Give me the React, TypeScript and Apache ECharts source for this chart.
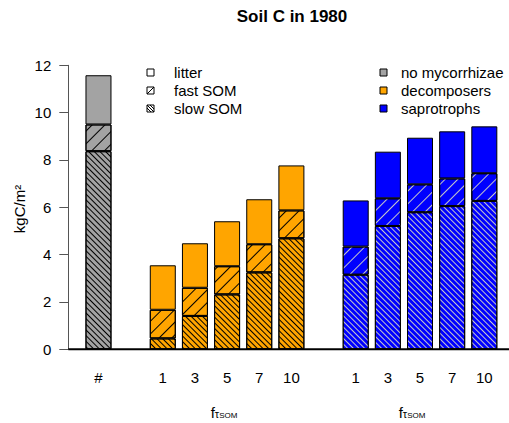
import React, { useEffect, useRef } from 'react';
import * as echarts from 'echarts';

// ---- data ----
const slotLabels = ['#', '', '1', '3', '5', '7', '10', '', '1', '3', '5', '7', '10'];
const slotGroups = ['none', 'gap', 'dec', 'dec', 'dec', 'dec', 'dec', 'gap', 'sap', 'sap', 'sap', 'sap', 'sap'];

const noMycSlow = [8.37];
const noMycFast = [1.13];
const noMycLitter = [2.08];

const decSlow = [0.46, 1.41, 2.32, 3.25, 4.69];
const decFast = [1.21, 1.19, 1.19, 1.19, 1.18];
const decLitter = [1.88, 1.88, 1.9, 1.9, 1.9];

const sapSlow = [3.15, 5.21, 5.79, 6.05, 6.27];
const sapFast = [1.19, 1.17, 1.18, 1.17, 1.17];
const sapLitter = [1.95, 1.97, 1.97, 1.99, 1.98];

const yTicks = { min: 0, max: 12, interval: 2 };

// ---- styles ----
const FONT = 'Liberation Sans, Arial, Helvetica, sans-serif';
const groupColor: Record<string, string> = { none: '#a3a3a3', dec: '#FFA500', sap: '#0000FF' };
const hatchColor: Record<string, string> = { none: '#000000', dec: '#000000', sap: '#c8c8c8' };

const GRID_LEFT = 82.4;
const GRID_WIDTH = 418;
const GRID_TOP = 65.3;
const GRID_HEIGHT = 284;
const Y_OFFSET = 14.1;

const slowDecal = (color: string) => ({
  symbol: 'rect', symbolSize: 1, color, dashArrayX: [1, 0], dashArrayY: [1, 3], rotation: Math.PI / 4,
});
const fastDecal = (color: string) => ({
  symbol: 'rect', symbolSize: 1, color, dashArrayX: [1, 0], dashArrayY: [1, 8], rotation: -Math.PI / 4,
});

function buildSeriesData(kind: 'slow' | 'fast' | 'litter') {
  const src: Record<string, number[]> =
    kind === 'slow' ? { none: noMycSlow, dec: decSlow, sap: sapSlow }
      : kind === 'fast' ? { none: noMycFast, dec: decFast, sap: sapFast }
        : { none: noMycLitter, dec: decLitter, sap: sapLitter };
  const counters: Record<string, number> = { none: 0, dec: 0, sap: 0 };
  return slotGroups.map((g) => {
    if (g === 'gap') return '-';
    const v = src[g][counters[g]++];
    const itemStyle: any = { color: groupColor[g], borderColor: '#000', borderWidth: 1 };
    if (kind === 'slow') itemStyle.decal = slowDecal(hatchColor[g]);
    if (kind === 'fast') itemStyle.decal = fastDecal(hatchColor[g]);
    return { value: v, itemStyle };
  });
}

export default function App() {
  const ref = useRef<HTMLDivElement>(null);
  useEffect(() => {
    if (!ref.current) return;
    const chart = echarts.init(ref.current, undefined, { renderer: 'svg' });
    const seriesCommon = { type: 'bar', stack: 'soil', barWidth: 26, barCategoryGap: 0 };
    chart.setOption({
      animation: false,
      backgroundColor: '#ffffff',
      title: {
        text: 'Soil C in 1980', left: 287, top: 3, textAlign: 'center',
        textStyle: { fontFamily: FONT, fontWeight: 'bold', fontSize: 17, color: '#000' },
      },
      grid: { left: GRID_LEFT, top: GRID_TOP, width: GRID_WIDTH, height: GRID_HEIGHT },
      xAxis: {
        type: 'category', data: slotLabels,
        axisLine: { show: false }, axisTick: { show: false },
        axisLabel: { interval: 0, margin: 21, fontFamily: FONT, fontSize: 15, color: '#000' },
      },
      yAxis: {
        type: 'value', min: yTicks.min, max: yTicks.max, interval: yTicks.interval, offset: Y_OFFSET,
        splitLine: { show: false },
        axisLine: { show: true, lineStyle: { color: '#555', width: 1 } },
        axisTick: { show: true, length: 9, lineStyle: { color: '#555', width: 1 } },
        axisLabel: { margin: 17, fontFamily: FONT, fontSize: 15, color: '#000' },
      },
      series: [
        { ...seriesCommon, name: 'slow SOM', data: buildSeriesData('slow') },
        { ...seriesCommon, name: 'fast SOM', data: buildSeriesData('fast') },
        { ...seriesCommon, name: 'litter', data: buildSeriesData('litter') },
      ],
    });

    const y0 = chart.convertToPixel({ yAxisIndex: 0 }, 0) as number;
    const xStart = GRID_LEFT - Y_OFFSET;
    const W = chart.getWidth();

    const legendText = (x: number, y: number, text: string) => ({
      type: 'text', x, y,
      style: { text, fontFamily: FONT, fontSize: 15, fill: '#000', align: 'left', verticalAlign: 'middle' },
    });
    const box = (x: number, y: number, fill: string) => ({
      type: 'rect', shape: { x, y: y - 3.5, width: 7, height: 7 },
      style: { fill, stroke: '#000', lineWidth: 1 },
    });
    const ln = (x1: number, y1: number, x2: number, y2: number) => ({
      type: 'line', shape: { x1, y1, x2, y2 }, style: { stroke: '#000', lineWidth: 1 },
    });
    const rows = [72.5, 90.5, 108.5];
    const lx = 147, rx = 380;

    const fLabel = (x: number) => ({
      type: 'text', x, y: 412,
      style: {
        text: '{f|f}{t|τ}{s|SOM}', align: 'center', verticalAlign: 'middle',
        rich: {
          f: { fontFamily: FONT, fontSize: 15, fill: '#000' },
          t: { fontFamily: FONT, fontSize: 11, fill: '#000', verticalAlign: 'bottom' },
          s: { fontFamily: FONT, fontSize: 8, fill: '#000', verticalAlign: 'bottom' },
        },
      },
    });

    chart.setOption({
      graphic: [
        { type: 'line', z: 100, shape: { x1: xStart, y1: y0, x2: W, y2: y0 }, style: { stroke: '#000', lineWidth: 2 } },
        box(lx, rows[0], '#fff'),
        box(lx, rows[1], '#fff'),
        ln(lx, rows[1] + 3.5, lx + 7, rows[1] - 3.5),
        box(lx, rows[2], '#fff'),
        ln(lx, rows[2] - 3.5, lx + 7, rows[2] + 3.5),
        ln(lx + 3, rows[2] - 3.5, lx + 7, rows[2] + 0.5),
        ln(lx, rows[2] - 0.5, lx + 4, rows[2] + 3.5),
        legendText(174, rows[0], 'litter'),
        legendText(174, rows[1], 'fast SOM'),
        legendText(174, rows[2], 'slow SOM'),
        box(rx, rows[0], groupColor.none),
        box(rx, rows[1], groupColor.dec),
        box(rx, rows[2], groupColor.sap),
        legendText(401, rows[0], 'no mycorrhizae'),
        legendText(401, rows[1], 'decomposers'),
        legendText(401, rows[2], 'saprotrophs'),
        {
          type: 'text', x: 19, y: 209, rotation: Math.PI / 2,
          style: { text: 'kgC/m²', fontFamily: FONT, fontSize: 15, fill: '#000', align: 'center', verticalAlign: 'middle' },
        },
        fLabel(224),
        fLabel(412),
      ],
    });
    return () => chart.dispose();
  }, []);
  return <div ref={ref} style={{ position: 'fixed', left: 0, top: 0, width: 509, height: 423 }} />;
}
